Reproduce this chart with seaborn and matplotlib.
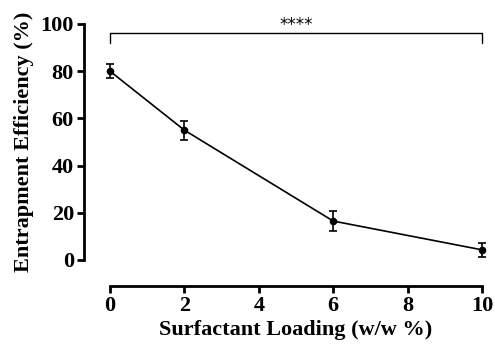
import numpy as np
import pandas as pd
import seaborn as sns
import matplotlib
matplotlib.use("Agg")
import matplotlib.pyplot as plt

# entrapment efficiency vs surfactant loading (mean +/- sd)
loading = [0, 2, 6, 10]
efficiency = [80.0, 55.0, 16.5, 4.3]
sd = [3.1, 4.1, 4.2, 3.0]
x_ticks = [0, 2, 4, 6, 8, 10]
y_ticks = [0, 20, 40, 60, 80, 100]

df = pd.DataFrame({"loading": loading, "efficiency": efficiency, "sd": sd})

sns.set_theme(style="ticks")
plt.rcParams["font.family"] = ["Liberation Serif", "DejaVu Serif"]
plt.rcParams["font.weight"] = "bold"

fig = plt.figure(figsize=(4.95, 3.51), dpi=100)
ax = fig.add_axes([0.2222, 0.2593, 0.7515, 0.6724])

sns.lineplot(data=df, x="loading", y="efficiency", ax=ax, color="black",
             linewidth=1.2, marker="o", markersize=5.5, markeredgewidth=0,
             clip_on=False, zorder=3)
ax.errorbar(df["loading"], df["efficiency"], yerr=df["sd"], fmt="none",
            ecolor="black", elinewidth=1.2, capsize=3, capthick=1.2,
            clip_on=False, zorder=3)

ax.set_xlim(0, 10)
ax.set_ylim(0, 100)
ax.set_xticks(x_ticks)
ax.set_yticks(y_ticks)
ax.tick_params(axis="both", labelsize=16, width=2, length=5, color="black",
               labelcolor="black", pad=2)
for lab in ax.get_xticklabels() + ax.get_yticklabels():
    lab.set_fontweight("bold")

ax.set_xlabel("Surfactant Loading (w/w %)", fontsize=16, fontweight="bold",
              color="black", labelpad=3)
ax.set_ylabel("Entrapment Efficiency (%)", fontsize=16, fontweight="bold",
              color="black", labelpad=5)

sns.despine(ax=ax)
for side in ["left", "bottom"]:
    ax.spines[side].set_linewidth(2)
    ax.spines[side].set_color("black")
    ax.spines[side].set_position(("outward", 19))

# significance bracket
ax.plot([0, 0, 10, 10], [92, 96, 96, 92], color="black", linewidth=1,
        clip_on=False)
ax.text(5, 95.8, "****", ha="center", va="bottom", fontsize=12,
        family="DejaVu Sans", fontweight="normal", color="black")

fig.savefig("out.png", dpi=100)
